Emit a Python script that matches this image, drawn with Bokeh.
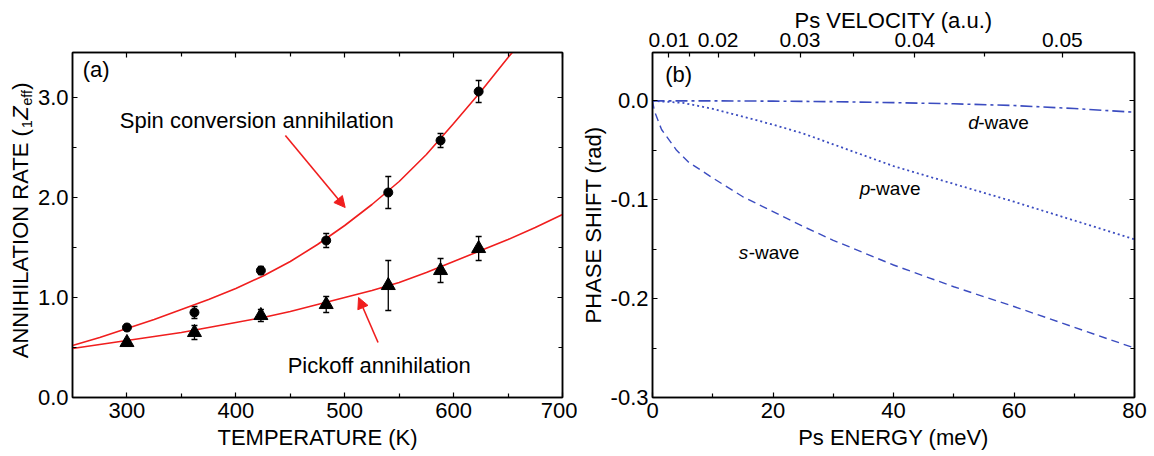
from bokeh.plotting import figure
from bokeh.models import (LinearAxis, FixedTicker, PrintfTickFormatter, Whisker,
                          ColumnDataSource, Arrow, NormalHead, Label, TeeHead, Range1d)
from bokeh.layouts import row
from bokeh.embed import file_html
from bokeh.resources import INLINE

# ---------------- data: panel (a) ----------------
temp = [300, 362, 423, 483, 540, 588, 623]
spin_rate = [0.70, 0.85, 1.27, 1.57, 2.05, 2.57, 3.06]
spin_err = [0.03, 0.06, 0.04, 0.07, 0.16, 0.07, 0.11]
pick_rate = [0.55, 0.65, 0.82, 0.93, 1.12, 1.27, 1.49]
pick_err = [0.03, 0.07, 0.06, 0.08, 0.25, 0.12, 0.12]

spin_fit_t = [250, 275, 300, 325, 350, 375, 400, 425, 450, 475, 500, 525, 550, 575,
              600, 625, 650, 657]
spin_fit_y = [0.52, 0.60, 0.69, 0.78, 0.88, 0.98, 1.09, 1.215, 1.36, 1.53, 1.72, 1.93,
              2.16, 2.43, 2.74, 3.06, 3.40, 3.49]
pick_fit_t = [250, 275, 300, 325, 350, 375, 400, 425, 450, 475, 500, 525, 550, 575,
              600, 625, 650, 675, 700]
pick_fit_y = [0.49, 0.53, 0.57, 0.61, 0.65, 0.70, 0.75, 0.80, 0.86, 0.93, 1.00, 1.07,
              1.15, 1.25, 1.36, 1.47, 1.58, 1.70, 1.83]

temp_ticks = [300, 400, 500, 600, 700]
temp_minor = [350, 450, 550, 650]
rate_ticks = [0, 1, 2, 3]
rate_minor = [0.5, 1.5, 2.5]

# ---------------- data: panel (b) ----------------
e_s = [0, 0.3, 1.5, 4, 6, 10, 15, 20, 25, 30, 40, 50, 60, 70, 80]
s_wave = [0, -0.010, -0.029, -0.050, -0.062, -0.078, -0.097, -0.112, -0.127,
          -0.141, -0.166, -0.188, -0.208, -0.229, -0.250]
e_p = [0, 5, 10, 15, 20, 25, 30, 40, 50, 60, 70, 80]
p_wave = [0, -0.002, -0.008, -0.016, -0.024, -0.033, -0.044, -0.066, -0.084,
          -0.102, -0.121, -0.140]
e_d = [0, 10, 20, 30, 40, 50, 60, 70, 80]
d_wave = [0, 0, -0.0003, -0.0008, -0.0018, -0.003, -0.0047, -0.0078, -0.0115]

energy_ticks = [0, 20, 40, 60, 80]
energy_minor = [10, 30, 50, 70]
phase_ticks = [-0.3, -0.2, -0.1, 0.0]
phase_minor = [-0.25, -0.15, -0.05]
velocity_ticks = [0.01, 0.02, 0.03, 0.04, 0.05]
velocity_labels = ["0.01", "0.02", "0.03", "0.04", "0.05"]
velocity_minor = [0.015, 0.025, 0.035, 0.045]
HARTREE_MEV = 27211.386  # Ps kinetic energy E = v^2 hartree (mass 2 a.u.), in meV

FONT = "Liberation Sans"
RED = "#f01e1e"
BLUE = "#3b4cc0"
H = 452
TOP = 52          # frame top (px from page top), shared by all three canvases
BOTTOM = 398      # frame bottom


def style_axis(ax, show_labels=True, size="22px"):
    ax.axis_line_color = "black"
    ax.axis_line_width = 1.5
    ax.major_tick_in = 5
    ax.major_tick_out = 0
    ax.minor_tick_in = 4
    ax.minor_tick_out = 0
    ax.major_tick_line_color = "black"
    ax.minor_tick_line_color = "black"
    ax.major_tick_line_width = 1.2
    ax.minor_tick_line_width = 1.2
    ax.major_label_text_font = FONT
    ax.axis_label_text_font = FONT
    ax.axis_label_text_font_style = "normal"
    ax.axis_label_text_font_size = "22px"
    ax.axis_label_text_color = "black"
    if show_labels:
        ax.major_label_text_font_size = size
        ax.major_label_text_color = "black"
    else:
        ax.major_label_text_font_size = "1px"
        ax.major_label_text_color = None
        ax.major_label_standoff = 0


# ---------------- y title strip for panel (a) ----------------
# data coordinates of this strip equal page pixels (x from left, y from bottom)
p0 = figure(width=34, height=H, x_range=Range1d(0, 34), y_range=Range1d(H - BOTTOM, H - TOP),
            x_axis_type=None, y_axis_type=None, output_backend="svg",
            toolbar_location=None, min_border_left=0, min_border_right=0,
            min_border_top=TOP, min_border_bottom=H - BOTTOM)
p0.outline_line_color = None
p0.grid.visible = False
# (text, centre along text in page px from top, font size, style, centre x in px)
segs = [
    ("ANNIHILATION RATE (", 243.8, "22px", "normal", 20.0),
    ("1", 123.8, "14px", "normal", 26.5),
    ("Z", 112.7, "22px", "italic", 20.0),
    ("eff", 97.4, "14px", "normal", 26.5),
    (")", 85.7, "22px", "normal", 20.0),
]
for txt, cy, fs, style, cx in segs:
    p0.add_layout(Label(x=cx, y=H - cy, text=txt, angle=1.5707963,
                        text_font=FONT, text_font_size=fs, text_font_style=style,
                        text_align="center", text_baseline="middle", text_color="black"))

# ---------------- panel (a) ----------------
p1 = figure(width=543, height=H, x_range=Range1d(250, 700), y_range=Range1d(0, 3.45),
            output_backend="svg", toolbar_location=None,
            min_border_left=36, min_border_right=15, min_border_top=TOP,
            min_border_bottom=H - BOTTOM)
p1.grid.visible = False
p1.outline_line_color = "black"
p1.outline_line_width = 1.5

xt1 = FixedTicker(ticks=temp_ticks, minor_ticks=temp_minor)
yt1 = FixedTicker(ticks=rate_ticks, minor_ticks=rate_minor)
p1.xaxis.ticker = xt1
p1.yaxis.ticker = yt1
p1.yaxis.formatter = PrintfTickFormatter(format="%.1f")
p1.xaxis.axis_label = "TEMPERATURE (K)"
for ax in p1.xaxis + p1.yaxis:
    style_axis(ax)
p1.xaxis.major_label_standoff = 5
p1.xaxis.axis_label_standoff = 4
p1.yaxis.major_label_standoff = 4
top1 = LinearAxis(ticker=xt1)
style_axis(top1, show_labels=False)
p1.add_layout(top1, "above")
right1 = LinearAxis(ticker=yt1)
style_axis(right1, show_labels=False)
p1.add_layout(right1, "right")

p1.line(spin_fit_t, spin_fit_y, line_color=RED, line_width=1.6)
p1.line(pick_fit_t, pick_fit_y, line_color=RED, line_width=1.6)

src_spin = ColumnDataSource(dict(base=temp,
                                 lower=[v - e for v, e in zip(spin_rate, spin_err)],
                                 upper=[v + e for v, e in zip(spin_rate, spin_err)]))
src_pick = ColumnDataSource(dict(base=temp,
                                 lower=[v - e for v, e in zip(pick_rate, pick_err)],
                                 upper=[v + e for v, e in zip(pick_rate, pick_err)]))
for src in (src_spin, src_pick):
    p1.add_layout(Whisker(source=src, base="base", lower="lower", upper="upper",
                          line_color="black", line_width=1.3,
                          upper_head=TeeHead(size=6, line_color="black", line_width=1.3),
                          lower_head=TeeHead(size=6, line_color="black", line_width=1.3)))
p1.scatter(temp, spin_rate, marker="circle", size=9, color="black")
p1.scatter(temp, pick_rate, marker="triangle", size=14, color="black")

p1.add_layout(Arrow(end=NormalHead(size=11, fill_color=RED, line_color=RED),
                    x_start=445.5, y_start=2.62, x_end=500.4, y_end=1.90,
                    line_color=RED, line_width=1.6))
p1.add_layout(Arrow(end=NormalHead(size=11, fill_color=RED, line_color=RED),
                    x_start=530.6, y_start=0.55, x_end=512.7, y_end=1.00,
                    line_color=RED, line_width=1.6))

p1.add_layout(Label(x=293.4, y=2.77, text="Spin conversion annihilation", text_font=FONT,
                    text_font_size="22px", text_baseline="middle", text_color="black"))
p1.add_layout(Label(x=447.6, y=0.32, text="Pickoff annihilation", text_font=FONT,
                    text_font_size="22px", text_baseline="middle", text_color="black"))
p1.add_layout(Label(x=259.4, y=3.28, text="(a)", text_font=FONT,
                    text_font_size="22px", text_baseline="middle", text_color="black"))

# ---------------- panel (b) ----------------
p2 = figure(width=577, height=H, x_range=Range1d(0, 80), y_range=Range1d(-0.3, 0.0489),
            output_backend="svg", toolbar_location=None,
            min_border_left=72, min_border_right=20, min_border_top=TOP,
            min_border_bottom=H - BOTTOM)
p2.grid.visible = False
p2.outline_line_color = "black"
p2.outline_line_width = 1.5

xt2 = FixedTicker(ticks=energy_ticks, minor_ticks=energy_minor)
yt2 = FixedTicker(ticks=phase_ticks, minor_ticks=phase_minor)
p2.xaxis.ticker = xt2
p2.yaxis.ticker = yt2
p2.yaxis.formatter = PrintfTickFormatter(format="%.1f")
p2.xaxis.axis_label = "Ps ENERGY (meV)"
p2.yaxis.axis_label = "PHASE SHIFT (rad)"
for ax in p2.xaxis + p2.yaxis:
    style_axis(ax)
p2.xaxis.major_label_standoff = 5
p2.xaxis.axis_label_standoff = 4
p2.yaxis.major_label_standoff = 4
p2.yaxis.axis_label_standoff = 2

vel_pos = [round(HARTREE_MEV * v * v, 3) for v in velocity_ticks]
vel_minor_pos = [round(HARTREE_MEV * v * v, 3) for v in velocity_minor]
top2 = LinearAxis(ticker=FixedTicker(ticks=vel_pos, minor_ticks=vel_minor_pos),
                  major_label_overrides={pos: lab for pos, lab in zip(vel_pos, velocity_labels)},
                  axis_label="Ps VELOCITY (a.u.)")
style_axis(top2, size="21px")
top2.major_label_standoff = 6
top2.axis_label_standoff = -3
p2.add_layout(top2, "above")
right2 = LinearAxis(ticker=yt2)
style_axis(right2, show_labels=False)
p2.add_layout(right2, "right")

p2.line(e_s, s_wave, line_color=BLUE, line_width=1.4, line_dash="8 5")
p2.line(e_p, p_wave, line_color=BLUE, line_width=1.8, line_dash="2 3")
p2.line(e_d, d_wave, line_color=BLUE, line_width=1.6, line_dash="12 4 3 4")

for lx, ly, letter in [(52.4, -0.022, "d"), (34.4, -0.089, "p"), (14.3, -0.153, "s")]:
    p2.add_layout(Label(x=lx, y=ly, text=letter, text_font=FONT, text_font_size="19px",
                        text_font_style="italic", text_baseline="middle", text_color="black"))
    p2.add_layout(Label(x=lx, y=ly, x_offset=10, text="-wave", text_font=FONT,
                        text_font_size="19px", text_baseline="middle", text_color="black"))
p2.add_layout(Label(x=2.1, y=0.0267, text="(b)", text_font=FONT, text_font_size="22px",
                    text_baseline="middle", text_color="black"))

layout = row(p0, p1, p2)
open("out.html", "w").write(file_html(layout, INLINE))
